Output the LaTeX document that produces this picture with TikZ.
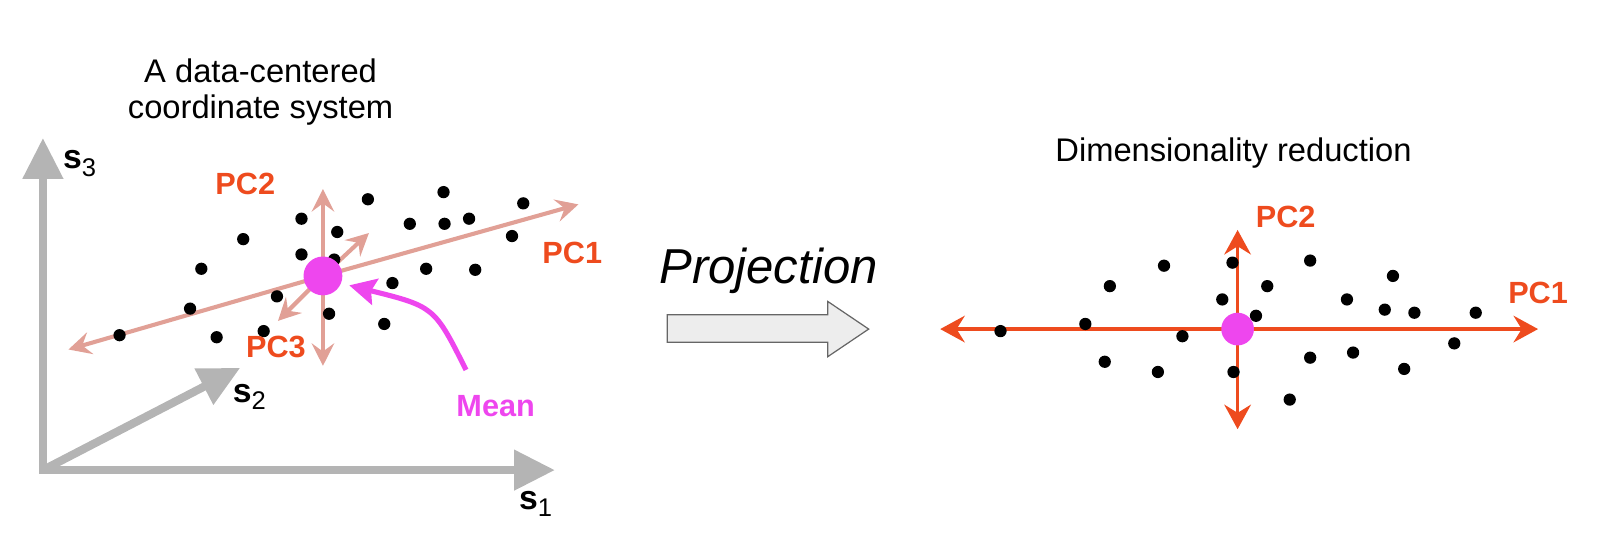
\documentclass[tikz,border=0pt]{standalone}
\usepackage{fontspec}
\setmainfont{Liberation Sans}
\usepackage{xcolor}
\usetikzlibrary{arrows.meta, positioning, calc}
\definecolor{axis_gray}{RGB}{180, 180, 180}
\definecolor{pc_pink}{RGB}{225, 160, 150}
\definecolor{pc_orange}{RGB}{238, 75, 30}
\definecolor{mean_mag}{RGB}{238, 70, 238}
\newcommand{\axlabel}[1]{\textbf{s}\raisebox{-0.4ex}{\fontsize{12.5}{14}\selectfont #1}}

\begin{document}
\begin{tikzpicture}[x=0.5pt, y=-0.5pt,
        ax/.style={draw=axis_gray, line width=4pt,
                   arrows={-Triangle[length=20pt, width=19pt]}},
        pcl/.style={draw=pc_pink, line width=2pt,
                    -{Stealth[length=11pt, width=11pt, inset=4pt]}},
        pcr/.style={draw=pc_orange, line width=1.75pt,
                    -{Stealth[length=12pt, width=13pt, inset=4pt]}},
        pt/.style={circle, fill=black, inner sep=0pt, minimum size=6pt},
        mn/.style={circle, fill=mean_mag, inner sep=0pt},
        lbl/.style={font=\fontsize{15}{18}\selectfont\bfseries, text=pc_orange},
        sl/.style={font=\fontsize{16.5}{19}\selectfont},
        ttl/.style={font=\fontsize{16}{18}\selectfont, align=center}]
        \useasboundingbox (0,0) rectangle (1565.6,538.2);
        % left: original axes
        \coordinate (o) at (42,460);
        \coordinate (s3tip) at (42,135);
        \coordinate (s1tip) at (543,460);
        \coordinate (s2tip) at (235,360);
        \draw[ax, arrows={Triangle[length=20pt, width=19pt]-Triangle[length=20pt, width=19pt]}]
          (s3tip) -- (o) -- (s1tip);
        \draw[ax] (o) -- (s2tip);
        \node[sl] (s3) at (78,160) {\axlabel{3}};
        \node[sl] (s2) at (244,388) {\axlabel{2}};
        \node[sl] (s1) at (524,493) {\axlabel{1}};
        \node[ttl] (t1) at (255,90) {A data-centered\\coordinate system};
        % left: principal axes
        \coordinate (m1) at (316,270);
        \coordinate (pc1a) at (67,342);
        \coordinate (pc1b) at (566,200);
        \coordinate (pc2a) at (316,185);
        \coordinate (pc2b) at (316,358);
        \coordinate (pc3a) at (272,314);
        \coordinate (pc3b) at (361,228);
        \foreach \e in {pc1a, pc1b, pc2a, pc2b, pc3a, pc3b}
          \draw[pcl] (m1) -- (\e);
        % left: data
        \foreach \x/\y in {117/328, 186/302, 197/263, 238/234, 212/330, 258/324,
                           271/290, 295/214, 295/249, 330/227, 327/254, 322/307,
                           360/195, 376/317, 384/277, 401/219, 417/263, 434/188,
                           435/219, 459/214, 465/264, 501/231, 512/199}
          \node[pt] at (\x,\y) {};
        \node[mn, minimum size=19pt] (mean1) at (m1) {};
        \node[lbl] (l2) at (240,180) {PC2};
        \node[lbl] (l1) at (560,248) {PC1};
        \node[lbl] (l3) at (270,340) {PC3};
        \node[lbl, text=mean_mag] (lm) at (485,397) {Mean};
        \coordinate (mstart) at (456,362);
        \draw[draw=mean_mag, line width=2.5pt, -{Stealth[length=13pt, width=13pt, inset=2pt]},
              shorten >=4pt]
          (mstart) .. controls (425,300) .. (mean1.-22);
        % middle
        \node[font=\fontsize{24}{28}\selectfont\itshape] (proj) at (752,265) {Projection};
        \draw[draw=black!60, fill=black!7, line width=0.6pt]
          (653,308) -- (810,308) -- (810,295) -- (850,322) -- (810,349)
          -- (810,335) -- (653,335) -- cycle;
        % right: reduced
        \node[ttl] (t2) at (1207,150) {Dimensionality reduction};
        \coordinate (m2) at (1211,322);
        \coordinate (r1a) at (920,322);
        \coordinate (r1b) at (1505,322);
        \coordinate (r2a) at (1211,225);
        \coordinate (r2b) at (1211,420);
        \foreach \e in {r1a, r1b, r2a, r2b}
          \draw[pcr] (m2) -- (\e);
        \foreach \x/\y in {979/324, 1062/317, 1086/280, 1139/260, 1081/354, 1133/364,
                           1157/329, 1196/293, 1206/257, 1229/309, 1240/280, 1282/255,
                           1207/364, 1262/391, 1282/350, 1324/345, 1318/293, 1363/270,
                           1355/303, 1384/306, 1444/306, 1423/336, 1374/361}
          \node[pt] at (\x,\y) {};
        \node[mn, minimum size=16pt] (mean2) at (m2) {};
        \node[lbl] (r2) at (1258,212) {PC2};
        \node[lbl] (r1) at (1505,287) {PC1};
      \end{tikzpicture}
\end{document}
